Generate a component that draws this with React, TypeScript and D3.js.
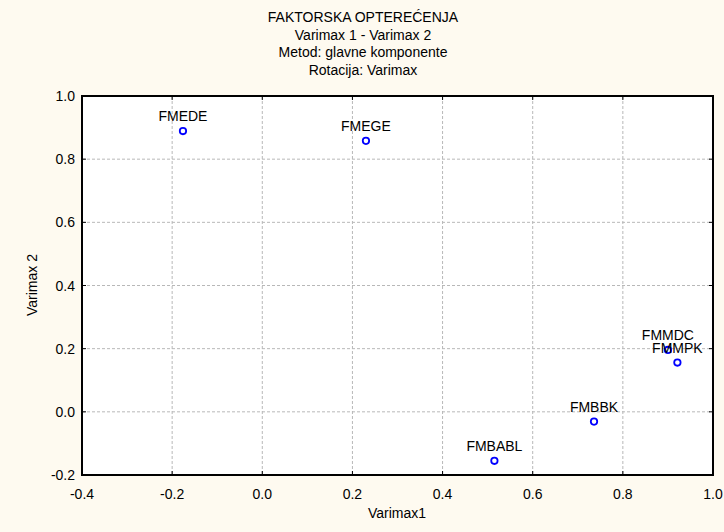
import React from "react";
import * as d3 from "d3";

const labels = ["FMEDE", "FMEGE", "FMMDC", "FMMPK", "FMBBK", "FMBABL"];
const xValues = [-0.176, 0.23, 0.9, 0.921, 0.736, 0.515];
const yValues = [0.889, 0.858, 0.196, 0.156, -0.031, -0.155];
const xTicks = [-0.4, -0.2, 0.0, 0.2, 0.4, 0.6, 0.8, 1.0];
const yTicks = [-0.2, 0.0, 0.2, 0.4, 0.6, 0.8, 1.0];
const titleLines = [
  "FAKTORSKA OPTEREĆENJA",
  "Varimax 1 - Varimax 2",
  "Metod: glavne komponente",
  "Rotacija: Varimax",
];

const W = 724;
const H = 532;
const M = { left: 82, right: 713, top: 96, bottom: 475 };
const font = "'Liberation Sans', Arial, sans-serif";
const FS = 14;

export default function App() {
  const x = d3.scaleLinear().domain([-0.4, 1.0]).range([M.left, M.right]);
  const y = d3.scaleLinear().domain([-0.2, 1.0]).range([M.bottom, M.top]);
  const fmt = (v: number) => d3.format(".1f")(v).replace("\u2212", "-");

  return (
    <svg
      width={W}
      height={H}
      style={{ position: "absolute", left: 0, top: 0 }}
      fontFamily={font}
    >
      <rect x={0} y={0} width={W} height={H} fill="#fefaf0" />
      <rect
        x={M.left}
        y={M.top}
        width={M.right - M.left}
        height={M.bottom - M.top}
        fill="#ffffff"
      />
      {titleLines.map((t, i) => (
        <text
          key={t}
          x={363}
          y={22 + i * 17.5}
          textAnchor="middle"
          fontSize={FS}
          fill="#000"
        >
          {t}
        </text>
      ))}
      {xTicks.slice(1, -1).map((t) => (
        <line
          key={"gx" + t}
          x1={x(t)}
          x2={x(t)}
          y1={M.top}
          y2={M.bottom}
          stroke="#b8b8b8"
          strokeDasharray="3,2"
          strokeWidth={1}
        />
      ))}
      {yTicks.slice(1, -1).map((t) => (
        <line
          key={"gy" + t}
          x1={M.left}
          x2={M.right}
          y1={y(t)}
          y2={y(t)}
          stroke="#b8b8b8"
          strokeDasharray="3,2"
          strokeWidth={1}
        />
      ))}
      {xTicks.map((t) => (
        <g key={"tx" + t}>
          <line x1={x(t)} x2={x(t)} y1={M.bottom} y2={M.bottom - 4} stroke="#000" />
          <line x1={x(t)} x2={x(t)} y1={M.top} y2={M.top + 4} stroke="#000" />
          <text x={x(t)} y={499} textAnchor="middle" fontSize={FS} fill="#000">
            {fmt(t)}
          </text>
        </g>
      ))}
      {yTicks.map((t) => (
        <g key={"ty" + t}>
          <line x1={M.left} x2={M.left + 4} y1={y(t)} y2={y(t)} stroke="#000" />
          <line x1={M.right} x2={M.right - 4} y1={y(t)} y2={y(t)} stroke="#000" />
          <text x={75} y={y(t) + 5} textAnchor="end" fontSize={FS} fill="#000">
            {fmt(t)}
          </text>
        </g>
      ))}
      <rect
        x={M.left}
        y={M.top}
        width={M.right - M.left}
        height={M.bottom - M.top}
        fill="none"
        stroke="#000"
        strokeWidth={2}
      />
      {labels.map((l, i) => (
        <g key={l}>
          <circle
            cx={x(xValues[i])}
            cy={y(yValues[i])}
            r={3.2}
            fill="none"
            stroke="#0000ff"
            strokeWidth={1.8}
          />
          <text
            x={x(xValues[i])}
            y={y(yValues[i]) - 10}
            textAnchor="middle"
            fontSize={FS}
            fill="#000"
          >
            {l}
          </text>
        </g>
      ))}
      <text x={397} y={518} textAnchor="middle" fontSize={FS} fill="#000">
        Varimax1
      </text>
      <text
        transform={`translate(37,285) rotate(-90)`}
        textAnchor="middle"
        fontSize={FS}
        fill="#000"
      >
        Varimax 2
      </text>
    </svg>
  );
}
